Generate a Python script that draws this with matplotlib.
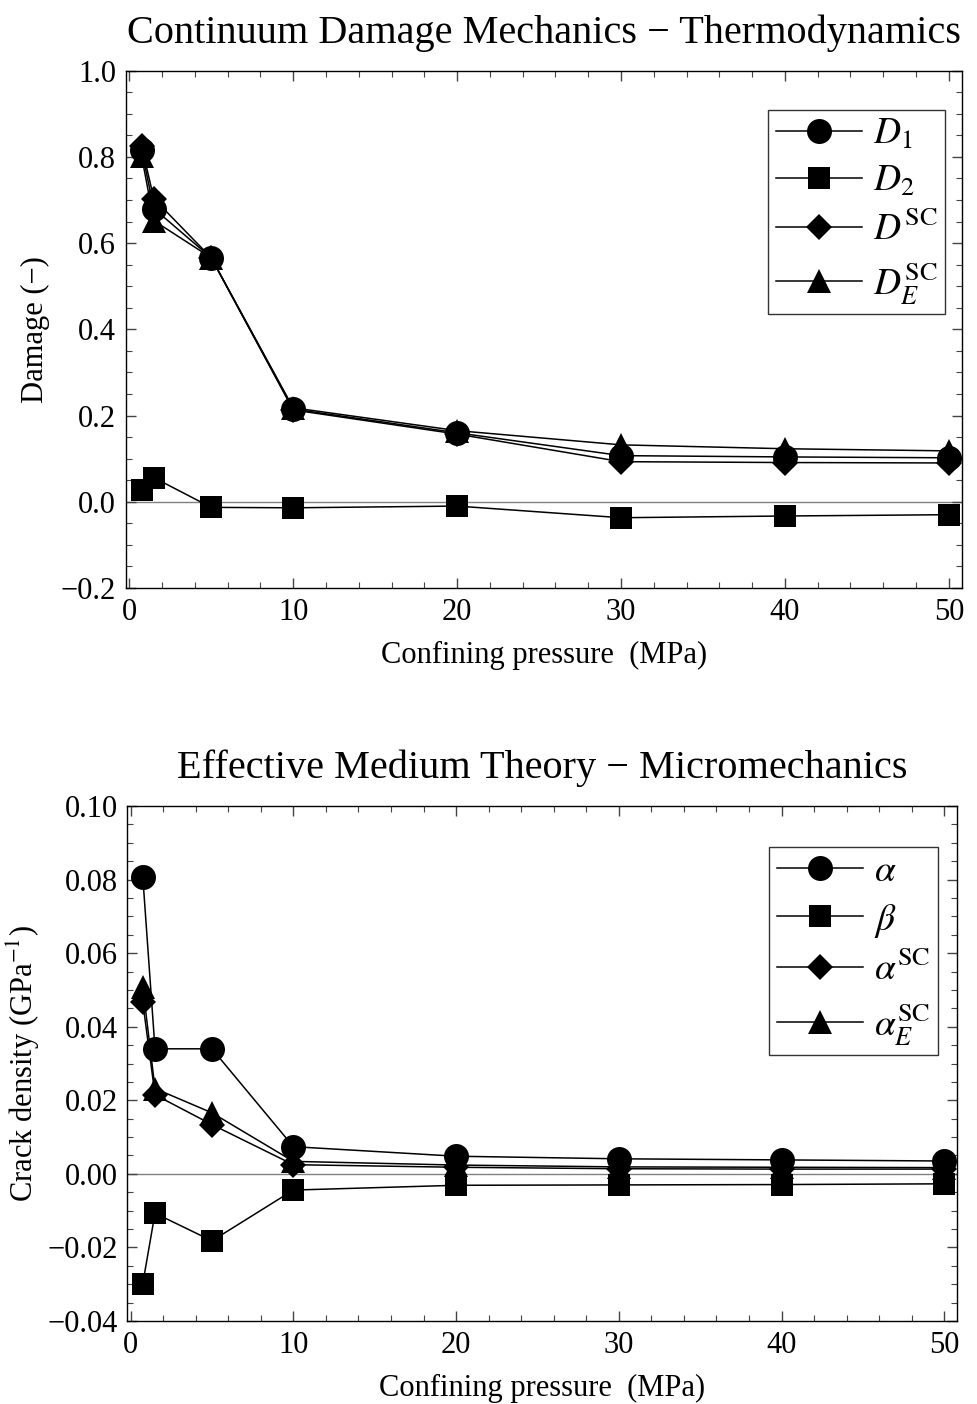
import matplotlib
matplotlib.use('Agg')
import matplotlib.pyplot as plt
from matplotlib.ticker import MultipleLocator

plt.rcParams['font.family'] = ['Liberation Serif', 'DejaVu Serif']
plt.rcParams['mathtext.fontset'] = 'stix'

pressure = [0.75, 1.5, 5, 10, 20, 30, 40, 50]

# damage variables (top panel)
D1 = [0.817, 0.680, 0.566, 0.215, 0.160, 0.107, 0.104, 0.102]
D2 = [0.028, 0.056, -0.013, -0.014, -0.010, -0.037, -0.033, -0.030]
D_SC = [0.826, 0.703, 0.566, 0.213, 0.157, 0.093, 0.091, 0.090]
D_E_SC = [0.803, 0.652, 0.566, 0.218, 0.165, 0.132, 0.123, 0.118]

# crack densities (bottom panel)
alpha = [0.0807, 0.0340, 0.0340, 0.0074, 0.0048, 0.0041, 0.0038, 0.0035]
beta = [-0.0298, -0.0107, -0.0182, -0.0044, -0.0031, -0.0030, -0.0029, -0.0027]
alpha_SC = [0.0466, 0.0215, 0.0134, 0.0025, 0.0018, 0.0014, 0.0013, 0.0013]
alpha_E_SC = [0.0508, 0.0232, 0.0166, 0.0034, 0.0024, 0.0019, 0.0018, 0.0017]

fig = plt.figure(figsize=(9.78, 14.04), dpi=100)
ax1 = fig.add_axes([0.1288, 0.5812, 0.8548, 0.3685])
ax2 = fig.add_axes([0.1302, 0.0591, 0.8487, 0.3668])

line_kw = dict(color='black', lw=1.1, markeredgewidth=0)


def style_axes(ax):
    ax.axhline(0, color='gray', lw=1.0, zorder=0)
    ax.set_xlim(-0.2, 50.8)
    ax.xaxis.set_major_locator(MultipleLocator(10))
    ax.xaxis.set_minor_locator(MultipleLocator(2))
    ax.tick_params(which='both', direction='in', top=True, right=True, labelsize=22, pad=7)
    ax.tick_params(which='major', length=7, width=1.0, color='#444444')
    ax.tick_params(which='minor', length=4, width=0.8, color='#444444')
    ax.set_xlabel('Confining pressure  (MPa)', fontsize=22, labelpad=10)
    for s in ax.spines.values():
        s.set_linewidth(1.0)


def add_legend(ax, anchor):
    h, l = ax.get_legend_handles_labels()
    leg = ax.legend(h[::-1], l[::-1], loc='upper right', bbox_to_anchor=anchor,
                    borderaxespad=0, fontsize=27, frameon=True, fancybox=False,
                    edgecolor='black', handlelength=2.3, labelspacing=0.33,
                    borderpad=0.2, handletextpad=0.3)
    leg.get_frame().set_linewidth(1.0)


ax1.plot(pressure, D_E_SC, marker='^', ms=17, label=r'$D_E^{\rm SC}$', **line_kw)
ax1.plot(pressure, D_SC, marker='D', ms=13, label=r'$D^{\rm SC}$', **line_kw)
ax1.plot(pressure, D2, marker='s', ms=16, label=r'$D_2$', **line_kw)
ax1.plot(pressure, D1, marker='o', ms=18, label=r'$D_1$', **line_kw)
style_axes(ax1)
ax1.set_ylim(-0.2, 1.0)
ax1.yaxis.set_minor_locator(MultipleLocator(0.05))
ax1.set_yticks([-0.2, 0, 0.2, 0.4, 0.6, 0.8, 1.0])
ax1.set_yticklabels(['\u22120.2', '0.0', '0.2', '0.4', '0.6', '0.8', '1.0'])
ax1.set_ylabel('Damage (\u2212)', fontsize=22, labelpad=8)
ax1.set_title('Continuum Damage Mechanics \u2212 Thermodynamics', fontsize=29, pad=20)
add_legend(ax1, (0.98, 0.924))

ax2.plot(pressure, alpha_E_SC, marker='^', ms=17, label=r'$\alpha_E^{\rm SC}$', **line_kw)
ax2.plot(pressure, alpha_SC, marker='D', ms=13, label=r'$\alpha^{\rm SC}$', **line_kw)
ax2.plot(pressure, beta, marker='s', ms=16, label=r'$\beta$', **line_kw)
ax2.plot(pressure, alpha, marker='o', ms=18, label=r'$\alpha$', **line_kw)
style_axes(ax2)
ax2.set_ylim(-0.04, 0.10)
ax2.yaxis.set_minor_locator(MultipleLocator(0.005))
ax2.set_yticks([-0.04, -0.02, 0, 0.02, 0.04, 0.06, 0.08, 0.10])
ax2.set_yticklabels(['\u22120.04', '\u22120.02', '0.00', '0.02', '0.04', '0.06', '0.08', '0.10'])
ax2.set_ylabel(r'Crack density (GPa$^{-1}$)', fontsize=22, labelpad=4)
ax2.set_title('Effective Medium Theory \u2212 Micromechanics', fontsize=29, pad=20)
add_legend(ax2, (0.977, 0.92))

fig.savefig('out.png', dpi=100)
